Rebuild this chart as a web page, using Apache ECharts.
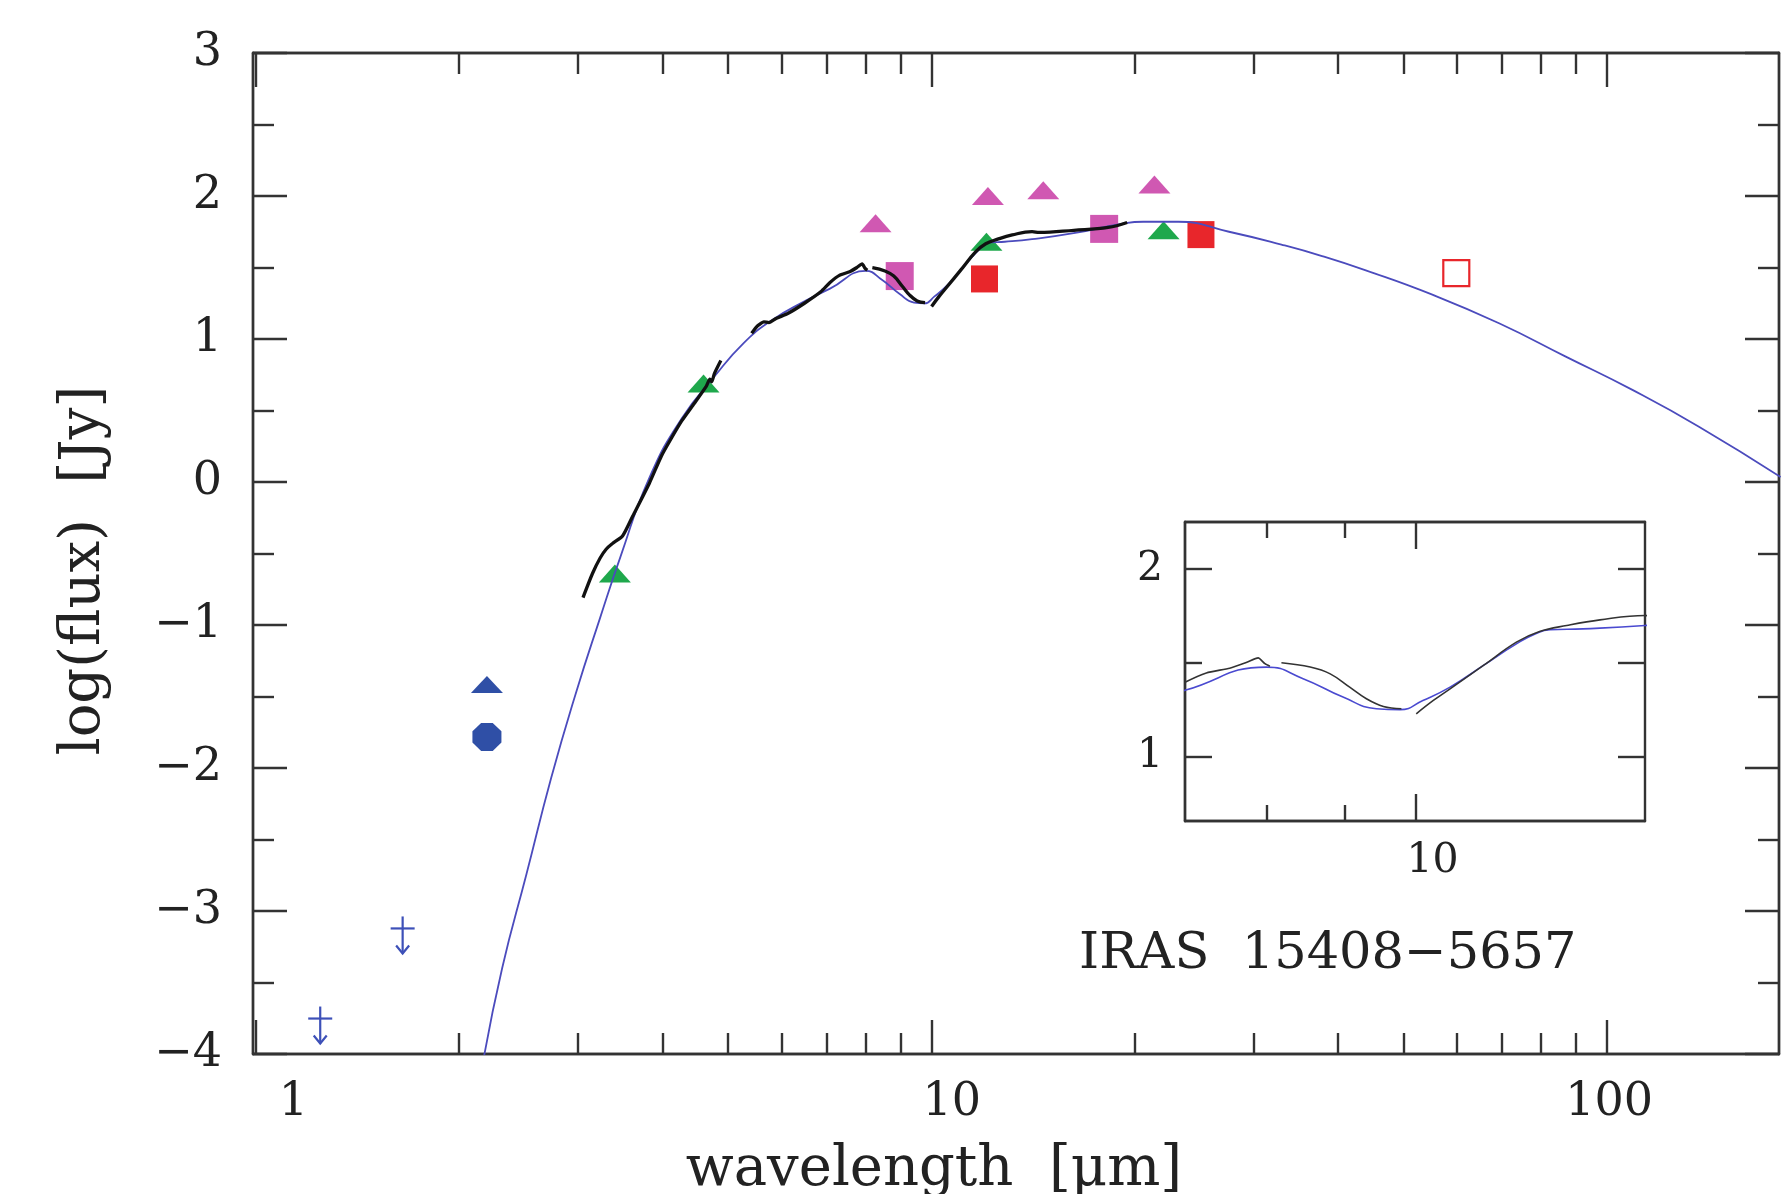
<!DOCTYPE html>
<html>
<head>
<meta charset="utf-8">
<script src="https://cdn.jsdelivr.net/npm/echarts@6/dist/echarts.min.js"></script>
<style>
  html, body { margin: 0; padding: 0; background: #fff; }
  #chart { width: 1781px; height: 1194px; }
</style>
</head>
<body>
<div id="chart"></div>
<script>
// [wavelength um, log(flux) Jy]
const modelCurve = [
  [2.17, -4.05], [2.315, -3.40], [2.516, -2.74], [2.736, -2.07], [2.975, -1.48],
  [3.233, -0.95], [3.467, -0.52], [3.82, 0.024], [4.27, 0.444], [4.78, 0.741],
  [5.27, 0.97], [5.8, 1.13], [6.5, 1.265], [7.08, 1.352], [8.0, 1.476],
  [8.45, 1.414], [8.97, 1.316], [9.43, 1.254], [9.77, 1.249], [10.11, 1.298],
  [10.53, 1.369], [11.07, 1.485], [11.63, 1.60], [11.99, 1.657], [12.23, 1.675],
  [12.85, 1.68], [14.1, 1.698], [16.25, 1.74], [19.4, 1.81], [20.6, 1.82],
  [23.2, 1.82], [27.6, 1.75], [33.0, 1.66], [37.9, 1.58], [44.0, 1.48],
  [55.2, 1.31], [69.3, 1.11], [87.0, 0.877], [109.2, 0.644], [137, 0.387], [181, 0.035]
]
// spectrum pieces (black)
const specSeg1 = [
  [3.05, -0.808], [3.15, -0.64], [3.235, -0.53], [3.30, -0.47], [3.372, -0.43], [3.49, -0.378],
  [3.614, -0.238], [3.823, -0.01], [3.985, 0.182], [4.10, 0.287], [4.27, 0.427],
  [4.456, 0.549], [4.645, 0.671], [4.70, 0.72], [4.73, 0.70], [4.775, 0.76], [4.88, 0.85]
]
const specSeg2 = [
  [5.42, 1.04], [5.5, 1.08], [5.56, 1.10], [5.65, 1.12], [5.75, 1.115], [5.89, 1.143],
  [6.14, 1.18], [6.49, 1.25], [6.86, 1.33], [7.08, 1.395], [7.31, 1.445], [7.57, 1.47],
  [7.76, 1.50], [7.90, 1.525], [7.98, 1.494], [8.04, 1.481]
]
const specSeg3 = [
  [8.18, 1.499], [8.54, 1.476], [8.80, 1.44], [9.06, 1.369], [9.29, 1.307], [9.53, 1.266], [9.79, 1.254]
]
const specSeg4 = [
  [10.01, 1.227], [10.27, 1.298], [10.53, 1.36], [11.07, 1.485], [11.63, 1.609], [12.04, 1.666],
  [12.54, 1.698], [13.18, 1.728], [14.1, 1.751], [14.45, 1.745], [16.26, 1.76], [18.28, 1.78], [19.5, 1.815]
]

const upperLimits = [[1.245, -3.752], [1.649, -3.122]]
const blueTriangles = [[2.198, -1.416]]
const blueOctagons = [[2.198, -1.783]]
const greenTriangles = [[3.40, -0.64], [4.60, 0.689], [12.07, 1.68], [22.08, 1.76]]
const magentaTriangles = [[8.27, 1.81], [12.13, 2.0], [14.65, 2.04], [21.4, 2.08]]
const magentaSquares = [[8.98, 1.44], [18.03, 1.77]]
const redSquares = [[11.99, 1.42], [25.08, 1.73]]
const redOpenSquares = [[59.9, 1.46]]

const xMajorTicks = [1, 10, 100]
const xMinorTicks = [2, 3, 4, 5, 6, 7, 8, 9, 20, 30, 40, 50, 60, 70, 80, 90]
const yMajorTicks = [-4, -3, -2, -1, 0, 1, 2, 3]
const yMinorTicks = [-3.5, -2.5, -1.5, -0.5, 0.5, 1.5, 2.5]
const insetXMajor = [10]
const insetXMinor = [8, 9]
const insetYMajor = [1, 2]
const insetYMinor = [1.5]

const FONT = 'DejaVu Serif'
const INK = '#333'

function xAxisDef (gridIndex, position, ticks, len, min, max, extra) {
  return Object.assign({
    type: 'log', logBase: 10, gridIndex, position, min, max,
    axisLine: { show: true, onZero: false, lineStyle: { color: INK, width: 2.4 } },
    axisTick: { show: true, inside: true, length: len, customValues: ticks, lineStyle: { color: INK, width: 2.4 } },
    axisLabel: { show: false },
    splitLine: { show: false }, minorTick: { show: false }, minorSplitLine: { show: false }
  }, extra || {})
}

function yAxisDef (gridIndex, position, ticks, len, min, max, extra) {
  return Object.assign({
    type: 'value', gridIndex, position, min, max,
    axisLine: { show: true, onZero: false, lineStyle: { color: INK, width: 2.4 } },
    axisTick: { show: true, inside: true, length: len, customValues: ticks, lineStyle: { color: INK, width: 2.4 } },
    axisLabel: { show: false },
    splitLine: { show: false }
  }, extra || {})
}

function minusFmt (v) {
  return v < 0 ? '\u2212' + Math.abs(v) : String(v)
}

function richPad (left, size) {
  return { fontFamily: FONT, fontSize: size, color: '#222', padding: [0, 0, 0, left] }
}

const mainX = [0.99, 180]
const mainY = [-4, 3]
const insetX = [7.08, 14.1]
const insetY = [0.655, 2.25]

const xAxes = [
  xAxisDef(0, 'bottom', xMajorTicks, 34, mainX[0], mainX[1], {
    axisLabel: {
      show: true, customValues: xMajorTicks, margin: 26,
      formatter: function (v) {
        const r = Math.round(v)
        if (r === 1) return '{a|1}'
        if (r === 10) return '{b|10}'
        return '{c|' + r + '}'
      },
      rich: { a: richPad(75, 46), b: richPad(41, 46), c: richPad(5, 46) }
    },
    name: 'wavelength  [\u03bcm]', nameLocation: 'middle', nameGap: 88,
    nameTextStyle: { fontFamily: FONT, fontSize: 56, lineHeight: 56, color: '#222', padding: [0, 164, 0, 0] }
  }),
  xAxisDef(0, 'bottom', xMinorTicks, 21, mainX[0], mainX[1]),
  xAxisDef(0, 'top', xMajorTicks, 34, mainX[0], mainX[1]),
  xAxisDef(0, 'top', xMinorTicks, 21, mainX[0], mainX[1]),
  xAxisDef(1, 'bottom', insetXMajor, 27, insetX[0], insetX[1], {
    axisLabel: {
      show: true, customValues: insetXMajor, margin: 20,
      formatter: function (v) { return '{b|' + Math.round(v) + '}' },
      rich: { b: richPad(34, 41) }
    }
  }),
  xAxisDef(1, 'bottom', insetXMinor, 16, insetX[0], insetX[1]),
  xAxisDef(1, 'top', insetXMajor, 27, insetX[0], insetX[1]),
  xAxisDef(1, 'top', insetXMinor, 16, insetX[0], insetX[1])
]

const yAxes = [
  yAxisDef(0, 'left', yMajorTicks, 34, mainY[0], mainY[1], {
    axisLabel: {
      show: true, customValues: yMajorTicks, margin: 31, formatter: minusFmt,
      fontFamily: FONT, fontSize: 46, color: '#222'
    },
    name: 'log(flux)  [Jy]', nameLocation: 'middle', nameRotate: 90, nameGap: 141,
    nameTextStyle: { fontFamily: FONT, fontSize: 56, lineHeight: 56, color: '#222', padding: [0, 34, 0, 0] }
  }),
  yAxisDef(0, 'left', yMinorTicks, 21, mainY[0], mainY[1]),
  yAxisDef(0, 'right', yMajorTicks, 34, mainY[0], mainY[1]),
  yAxisDef(0, 'right', yMinorTicks, 21, mainY[0], mainY[1]),
  yAxisDef(1, 'left', insetYMajor, 27, insetY[0], insetY[1], {
    axisLabel: {
      show: true, customValues: insetYMajor, margin: 22, formatter: minusFmt,
      fontFamily: FONT, fontSize: 41, color: '#222'
    }
  }),
  yAxisDef(1, 'left', insetYMinor, 17, insetY[0], insetY[1]),
  yAxisDef(1, 'right', insetYMajor.concat(insetYMinor), 27, insetY[0], insetY[1])
]

function lineSeries (data, color, width, inset, smooth) {
  return {
    type: 'line', data, showSymbol: false, symbol: 'none',
    xAxisIndex: inset ? 4 : 0, yAxisIndex: inset ? 4 : 0,
    smooth: smooth, z: 5,
    lineStyle: { color, width }
  }
}

function markSeries (data, symbol, size, color, extraStyle) {
  return {
    type: 'scatter', data, symbol, symbolSize: size, xAxisIndex: 0, yAxisIndex: 0, z: 2,
    itemStyle: Object.assign({ color, opacity: 1 }, extraStyle || {})
  }
}

const octagon = 'path://M30,0 L70,0 L100,30 L100,70 L70,100 L30,100 L0,70 L0,30 Z'
const GREEN = '#1fa84c'
const MAGENTA = '#d058b2'
const RED = '#e8262b'
const BLUE = '#2f4fa6'
const MODEL = '#4b4bbd'

const option = {
  animation: false,
  backgroundColor: '#fff',
  grid: [
    { left: 253, top: 53, width: 1526, height: 1001, outerBoundsMode: 'none', containLabel: false },
    { left: 1185, top: 522, width: 460, height: 299, outerBoundsMode: 'none', containLabel: false }
  ],
  xAxis: xAxes,
  yAxis: yAxes,
  graphic: [{
    type: 'text', left: 1079, top: 952 - 23,
    style: { text: 'IRAS  15408\u22125657', fontFamily: FONT, fontSize: 51, fill: '#222' }
  }],
  series: [
    markSeries(greenTriangles, 'triangle', [32, 18], GREEN),
    markSeries(magentaTriangles, 'triangle', [32, 18], MAGENTA),
    markSeries(magentaSquares, 'rect', [28, 28], MAGENTA),
    markSeries(redSquares, 'rect', [27, 27], RED),
    markSeries(redOpenSquares, 'rect', [26, 26], 'rgba(0,0,0,0)', { borderColor: RED, borderWidth: 2.2 }),
    markSeries(blueTriangles, 'triangle', [32, 17], BLUE),
    markSeries(blueOctagons, octagon, [29, 28], BLUE),
    {
      type: 'custom', data: upperLimits, xAxisIndex: 0, yAxisIndex: 0, z: 3,
      renderItem: function (params, api) {
        const p = api.coord([api.value(0), api.value(1)])
        const style = { stroke: '#3d50b8', lineWidth: 2.2, fill: null }
        return {
          type: 'group',
          children: [
            { type: 'line', shape: { x1: p[0], y1: p[1] - 12, x2: p[0], y2: p[1] + 25 }, style },
            { type: 'line', shape: { x1: p[0] - 12, y1: p[1], x2: p[0] + 12, y2: p[1] }, style },
            { type: 'polyline', shape: { points: [[p[0] - 6.5, p[1] + 17], [p[0], p[1] + 25], [p[0] + 6.5, p[1] + 17]] }, style }
          ]
        }
      }
    },
    lineSeries(modelCurve, MODEL, 1.8, false, 0.5),
    lineSeries(specSeg1, '#111', 3.3, false, 0.2),
    lineSeries(specSeg2, '#111', 3.3, false, 0.2),
    lineSeries(specSeg3, '#111', 3.3, false, 0.4),
    lineSeries(specSeg4, '#111', 3.3, false, 0.4),
    lineSeries(modelCurve, '#4a4ad0', 1.6, true, 0.5),
    lineSeries(specSeg2, '#333', 1.6, true, 0.2),
    lineSeries(specSeg3, '#333', 1.6, true, 0.4),
    lineSeries(specSeg4, '#333', 1.6, true, 0.4)
  ]
}

const chart = echarts.init(document.getElementById('chart'))
chart.setOption(option)
</script>
</body>
</html>
